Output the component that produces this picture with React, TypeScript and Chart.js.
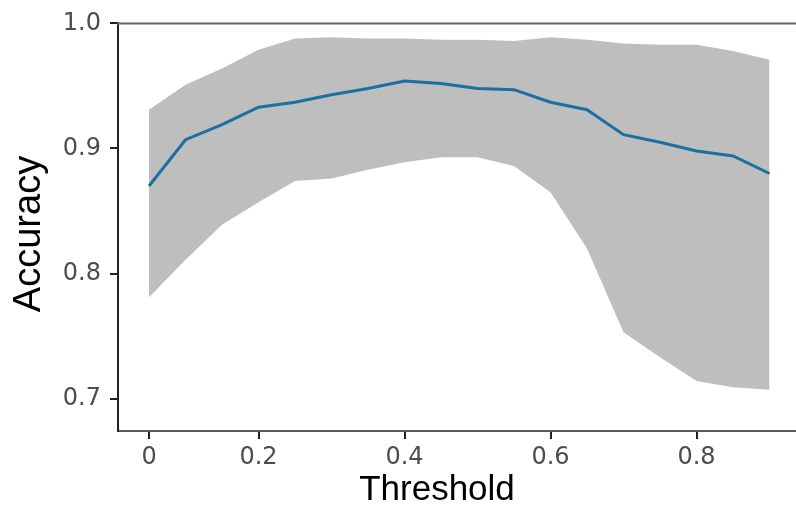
import { useEffect, useRef } from "react";
import { Chart, registerables } from "chart.js";

Chart.register(...registerables);

const thresholds = [0.05, 0.1, 0.15, 0.2, 0.25, 0.3, 0.35, 0.4, 0.45, 0.5, 0.55, 0.6, 0.65, 0.7, 0.75, 0.8, 0.85, 0.9];
const accuracy = [0.870, 0.907, 0.919, 0.933, 0.937, 0.943, 0.948, 0.954, 0.952, 0.948, 0.947, 0.937, 0.931, 0.911, 0.905, 0.898, 0.894, 0.880];
const upperBand = [0.931, 0.951, 0.964, 0.979, 0.988, 0.989, 0.988, 0.988, 0.987, 0.987, 0.986, 0.989, 0.987, 0.984, 0.983, 0.983, 0.978, 0.971];
const lowerBand = [0.781, 0.811, 0.839, 0.857, 0.874, 0.876, 0.883, 0.889, 0.893, 0.893, 0.886, 0.865, 0.820, 0.753, 0.733, 0.714, 0.709, 0.707];

const xTickValues = [0.05, 0.2, 0.4, 0.6, 0.8];
const xTickLabels = ["0", "0.2", "0.4", "0.6", "0.8"];
const yTickValues = [0.7, 0.8, 0.9, 1.0];
const yTickLabels = ["0.7", "0.8", "0.9", "1.0"];
const xTitle = "Threshold";
const yTitle = "Accuracy";

export default function App() {
  const ref = useRef<HTMLCanvasElement>(null);

  useEffect(() => {
    const canvas = ref.current;
    if (!canvas) return;
    const pts = (ys: number[]) => thresholds.map((x, i) => ({ x, y: ys[i] }));

    const framePlugin = {
      id: "frameAndTitles",
      afterDraw(chart: any) {
        const { ctx, chartArea } = chart;
        ctx.save();
        ctx.strokeStyle = "#666666";
        ctx.lineWidth = 2;
        ctx.beginPath();
        ctx.moveTo(chartArea.left - 1, chartArea.top);
        ctx.lineTo(chartArea.right, chartArea.top);
        ctx.stroke();
        ctx.fillStyle = "#000000";
        ctx.textAlign = "center";
        ctx.textBaseline = "alphabetic";
        ctx.font = '35px "Liberation Sans", Arial, sans-serif';
        ctx.fillText(xTitle, chartArea.left + 319, 500);
        ctx.translate(40, 234);
        ctx.rotate(-Math.PI / 2);
        ctx.font = '38px "Liberation Sans", Arial, sans-serif';
        ctx.fillText(yTitle, 0, 0);
        ctx.restore();
      },
    };

    const chart = new Chart(canvas, {
      type: "line",
      data: {
        datasets: [
          {
            label: "Accuracy",
            data: pts(accuracy),
            borderColor: "#1b6fa3",
            borderWidth: 3,
            pointRadius: 0,
            tension: 0,
            fill: false,
          },
          {
            label: "Lower",
            data: pts(lowerBand),
            borderWidth: 0,
            borderColor: "rgba(0,0,0,0)",
            pointRadius: 0,
            tension: 0,
            fill: false,
          },
          {
            label: "Upper",
            data: pts(upperBand),
            borderWidth: 0,
            borderColor: "rgba(0,0,0,0)",
            backgroundColor: "#bebebe",
            pointRadius: 0,
            tension: 0,
            fill: "-1",
          },
        ],
      },
      options: {
        animation: false,
        responsive: false,
        devicePixelRatio: 1,
        layout: { padding: { left: 0, top: 18, right: 0, bottom: 0 } },
        plugins: {
          legend: { display: false },
          tooltip: { enabled: false },
          filler: { drawTime: "beforeDatasetsDraw" },
        },
        scales: {
          x: {
            type: "linear",
            min: 0.0075,
            max: 0.9363,
            afterFit: (scale: any) => {
              scale.height = 77;
            },
            afterBuildTicks: (scale: any) => {
              scale.ticks = xTickValues.map((v) => ({ value: v }));
            },
            ticks: {
              autoSkip: false,
              maxRotation: 0,
              padding: 4,
              color: "#4d4d4d",
              font: { family: '"DejaVu Sans", sans-serif', size: 24 },
              callback: (value: any) => {
                const i = xTickValues.findIndex((v) => Math.abs(v - Number(value)) < 1e-6);
                return i >= 0 ? xTickLabels[i] : "";
              },
            },
            grid: {
              display: true,
              drawOnChartArea: false,
              drawTicks: true,
              tickLength: 8,
              color: "#222222",
              lineWidth: 2,
            },
            border: { display: true, color: "#5a5a5a", width: 2 },
          },
          y: {
            type: "linear",
            min: 0.6741,
            max: 1.0,
            afterFit: (scale: any) => {
              scale.width = 118;
            },
            afterBuildTicks: (scale: any) => {
              scale.ticks = yTickValues.map((v) => ({ value: v }));
            },
            ticks: {
              autoSkip: false,
              padding: 9,
              color: "#4d4d4d",
              font: { family: '"DejaVu Sans", sans-serif', size: 24 },
              callback: (value: any) => {
                const i = yTickValues.findIndex((v) => Math.abs(v - Number(value)) < 1e-6);
                return i >= 0 ? yTickLabels[i] : "";
              },
            },
            grid: {
              display: true,
              drawOnChartArea: false,
              drawTicks: true,
              tickLength: 8,
              color: "#222222",
              lineWidth: 2,
            },
            border: { display: true, color: "#222222", width: 2 },
          },
        },
      },
      plugins: [framePlugin],
    });

    return () => chart.destroy();
  }, []);

  return (
    <div style={{ position: "absolute", left: 0, top: 0, width: 796, height: 508, background: "#ffffff" }}>
      <canvas ref={ref} width={796} height={508} style={{ display: "block" }} />
    </div>
  );
}
